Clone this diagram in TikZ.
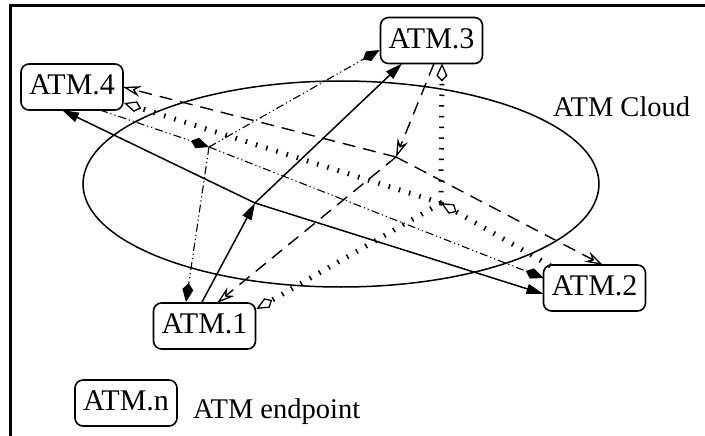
\documentclass[tikz,border=0pt]{standalone}
\usepackage{fontspec}
\setmainfont{Liberation Serif}
\usetikzlibrary{arrows.meta,calc}
\begin{document}
\begin{tikzpicture}[x=1pt,y=-1pt,
  atm/.style={draw,line width=1.6pt,rounded corners=8pt,minimum width=102pt,minimum height=46pt,inner sep=0pt,outer sep=0pt,font=\fontsize{30}{32}\selectfont,text depth=4pt},
  lbl/.style={inner sep=0pt,font=\fontsize{28.5}{30}\selectfont,anchor=base west},
  solidc/.style={line width=1.5pt,-{Triangle[length=17pt,width=10pt]}},
  dashc/.style={line width=1.4pt,dash pattern=on 13pt off 8pt,-{Stealth[open,length=18pt,width=11pt,inset=6pt,line width=1.3pt]}},
  dotc/.style={line width=5pt,dash pattern=on 1.5pt off 9.2pt,-{Kite[open,length=18pt,width=11pt,inset=6pt,line width=1.3pt]}},
  ddotc/.style={line width=1.1pt,dash pattern=on 8pt off 3pt on 1.2pt off 3pt on 1.2pt off 3pt,-{Kite[length=19pt,width=11pt,inset=6.5pt]}},
  cloud/.style={line width=1.5pt}
]
\useasboundingbox (0,0) rectangle (705,436);
\draw[line width=3.2pt] (10.5,436) -- (10.5,5.5) -- (705,5.5);
\draw[cloud] (341,184) ellipse [x radius=258, y radius=103];

\node[atm] (a4) at (72,87) {ATM.4};
\node[atm] (a3) at (431.5,40.5) {ATM.3};
\node[atm] (a2) at (594.5,288) {ATM.2};
\node[atm] (a1) at (204.5,326) {ATM.1};
\node[atm] (an) at (126,403) {ATM.n};
\node[lbl] (cl) at (553,117) {ATM Cloud};
\node[lbl] (ep) at (193,418) {ATM endpoint};

\coordinate (j1) at (255,203);
\coordinate (j3) at (396,157);
\coordinate (j2) at (441,203);
\coordinate (j4) at (209,147);

% solid: from ATM.1
\draw[solidc] ($(a1.north)+(-3,0)$) -- (j1);
\draw[solidc] (j1) -- ($(a3.south)+(-29.5,0)$);
\draw[solidc] (j1) -- ($(a4.south)+(-10,0)$);
\draw[solidc] (j1) -- ($(a2.west)+(0,6)$);

% dashed: from ATM.3
\draw[dashc] ($(a3.south)+(2.5,0)$) -- (j3);
\draw[dashc] (j3) -- (a4.east);
\draw[dashc] (j3) -- ($(a2.north)+(8.5,0)$);
\draw[dashc] (j3) -- ($(a1.north)+(12.5,0)$);

% dotted: from ATM.2
\draw[dotc] ($(a2.north west)+(7,1)$) -- (j2);
\draw[dotc] (j2) -- ($(a3.south)+(10.5,0)$);
\draw[dotc] (j2) -- ($(a4.east)+(1,16)$);
\draw[dotc] (j2) -- ($(a1.east)+(1,-17)$);

% dash-dot-dot: from ATM.4
\draw[ddotc] ($(a4.south)+(28,0)$) -- (j4);
\draw[ddotc] (j4) -- ($(a3.west)+(-1,9.5)$);
\draw[ddotc] (j4) -- ($(a2.west)+(0,-10)$);
\draw[ddotc] (j4) -- ($(a1.north)+(-18.5,-1)$);
\end{tikzpicture}
\end{document}
